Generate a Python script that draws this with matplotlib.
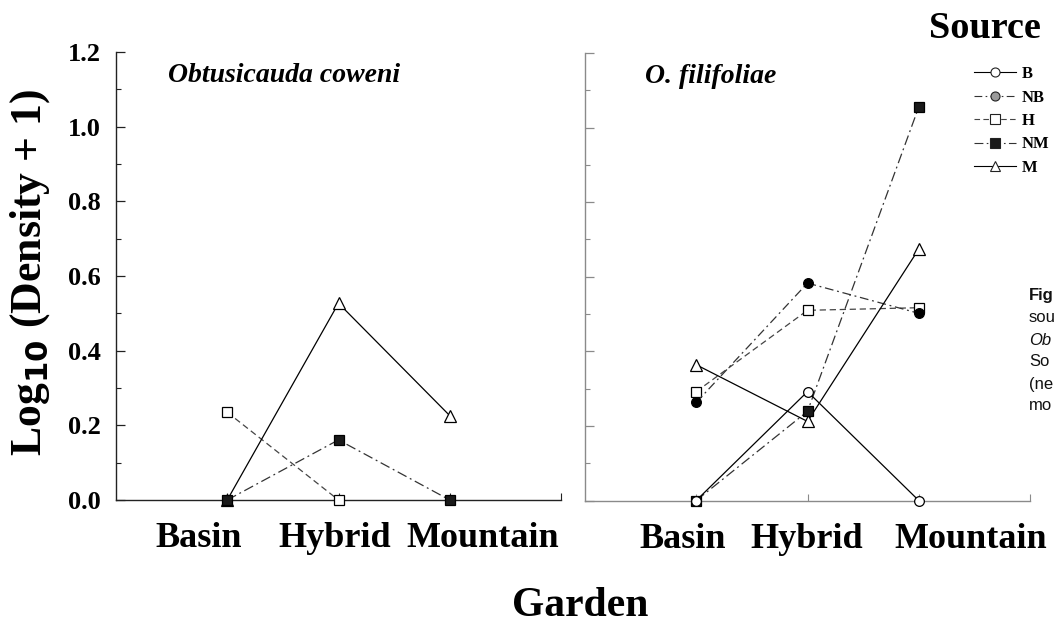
import numpy as np
import matplotlib
matplotlib.use("Agg")
import matplotlib.pyplot as plt
from matplotlib.lines import Line2D
from matplotlib.ticker import MultipleLocator

# ---- data -------------------------------------------------------------
gardens = ["Basin", "Hybrid", "Mountain"]
sources = ["B", "NB", "H", "NM", "M"]

# Obtusicauda coweni: log10(density + 1) per garden
coweni_H = [0.235, 0.0, np.nan]
coweni_NM = [0.0, 0.161, 0.0]
coweni_M = [0.0, 0.527, 0.226]

# O. filifoliae
filif_B = [0.0, 0.292, 0.0]
filif_NB = [0.263, 0.583, 0.502]
filif_H = [0.292, 0.510, 0.517]
filif_NM = [0.0, 0.239, 1.055]
filif_M = [0.364, 0.212, 0.674]

y_ticks = [0.0, 0.2, 0.4, 0.6, 0.8, 1.0, 1.2]

# ---- styling ------------------------------------------------------------
SERIF = ["Liberation Serif", "DejaVu Serif"]
plt.rcParams["font.family"] = SERIF
plt.rcParams["font.weight"] = "bold"

styles = {
    "B":  dict(color="black", ls="-", lw=0.9, marker="o", mfc="white", mec="black", ms=7),
    "NB": dict(color="#333333", ls=(0, (7, 3, 1.5, 3)), lw=0.9, marker="o", mfc="black", mec="black", ms=7),
    "H":  dict(color="#444444", ls=(0, (5, 3)), lw=0.9, marker="s", mfc="white", mec="black", ms=7),
    "NM": dict(color="#333333", ls=(0, (8, 3, 1.5, 3)), lw=0.9, marker="s", mfc="#1a1a1a", mec="black", ms=7),
    "M":  dict(color="black", ls="-", lw=0.9, marker="^", mfc="white", mec="black", ms=8),
}

fig = plt.figure(figsize=(10.54, 6.37), dpi=100)
W, H = 1054, 637
ax1 = fig.add_axes([116 / W, (H - 500) / H, 445 / W, 448 / H])
ax2 = fig.add_axes([585 / W, (H - 500.5) / H, 445 / W, 447.5 / H])

xpos = np.arange(1, len(gardens) + 1)


def draw(ax, key, vals):
    st = dict(styles[key])
    ax.plot(xpos, vals, linestyle=st.pop("ls"), linewidth=st.pop("lw"), markeredgewidth=0.9,
            markerfacecolor=st.pop("mfc"), markeredgecolor=st.pop("mec"),
            markersize=st.pop("ms"), clip_on=False, zorder=3, **st)


draw(ax1, "H", coweni_H)
draw(ax1, "M", coweni_M)
draw(ax1, "NM", coweni_NM)

draw(ax2, "H", filif_H)
draw(ax2, "NB", filif_NB)
draw(ax2, "M", filif_M)
draw(ax2, "NM", filif_NM)
draw(ax2, "B", filif_B)

label_pos = {ax1: [0.74, 1.97, 3.30], ax2: [0.88, 1.99, 3.47]}

for ax, spine_col in ((ax1, "#222222"), (ax2, "#8a8a8a")):
    ax.set_xlim(0, 4)
    ax.set_ylim(0, 1.2)
    for s in ("top", "right"):
        ax.spines[s].set_visible(False)
    ax.spines["left"].set_color(spine_col)
    ax.spines["bottom"].set_color(spine_col)
    ax.spines["left"].set_linewidth(1.0)
    ax.spines["bottom"].set_linewidth(1.0)
    # garden names, and small marks at each garden position
    ax.set_xticks(label_pos[ax])
    ax.set_xticklabels(gardens, fontsize=26, fontweight="bold")
    ax.set_xticks([1, 2, 3, 4], minor=True)
    ax.tick_params(axis="x", which="major", length=0, pad=16)
    ax.tick_params(axis="x", which="minor", direction="in", length=5, width=0.8, color=spine_col)
    ax.set_yticks(y_ticks)
    ax.yaxis.set_minor_locator(MultipleLocator(0.1))
    ax.tick_params(axis="y", which="major", direction="in", length=6.5, width=0.9, color=spine_col)
    ax.tick_params(axis="y", which="minor", direction="in", length=3.5, width=0.8, color=spine_col)
    ax.set_facecolor("none")

ax1.set_yticklabels([f"{v:.1f}" for v in y_ticks], fontsize=19, fontweight="bold")
ax1.tick_params(axis="y", which="major", pad=11)
ax2.set_yticklabels([])

ax1.text(0.117, 0.975, "Obtusicauda coweni", transform=ax1.transAxes, fontsize=20,
         fontweight="bold", fontstyle="italic", va="top", ha="left")
ax2.text(0.135, 0.975, "O. filifoliae", transform=ax2.transAxes, fontsize=20,
         fontweight="bold", fontstyle="italic", va="top", ha="left")

fig.text(30 / W, 1 - 273 / H, r"Log$_{\mathbf{10}}$ (Density + 1)", rotation=90,
         fontsize=31.5, fontweight="bold", ha="center", va="center")
fig.text(580 / W, 1 - 606 / H, "Garden", fontsize=30, fontweight="bold",
         ha="center", va="center")
fig.text(985 / W, 1 - 29 / H, "Source", fontsize=27.5, fontweight="bold",
         ha="center", va="center")

# legend of source populations
handles = []
for key in sources:
    st = styles[key]
    handles.append(Line2D([], [], color=st["color"], linestyle=st["ls"], linewidth=0.8,
                          marker=st["marker"], markersize=st["ms"] - 0.5,
                          markerfacecolor=("#9a9a9a" if key == "NB" else st["mfc"]),
                          markeredgecolor="#222222", markeredgewidth=0.8))
leg = fig.legend(handles, sources, loc="upper left", bbox_to_anchor=(974 / W, 1 - 66 / H),
                 frameon=False, handlelength=2.5, handletextpad=0.35, labelspacing=0.45,
                 prop=dict(family=SERIF, weight="bold", size=12), borderaxespad=0, borderpad=0)

# caption running in from the right edge
caption = [("Fig", "bold", "normal"), ("sou", "normal", "normal"),
           ("Ob", "normal", "italic"), ("So", "normal", "normal"),
           ("(ne", "normal", "normal"), ("mo", "normal", "normal")]
for i, (txt, wt, sty) in enumerate(caption):
    fig.text(1029 / W, 1 - (296 + 22 * i) / H, txt, fontsize=12, fontweight=wt,
             fontstyle=sty, family=["Liberation Sans", "DejaVu Sans"], ha="left",
             va="center", color="#111111")

fig.savefig("out.png", dpi=100, facecolor="white")
